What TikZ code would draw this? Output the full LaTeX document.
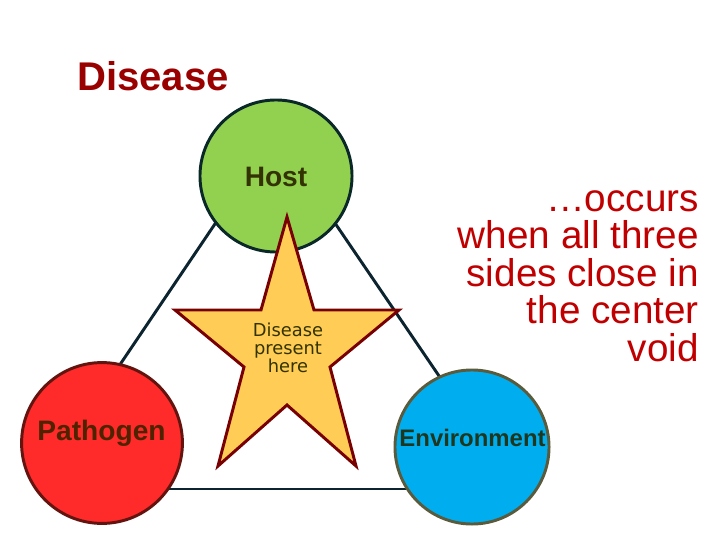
\documentclass[tikz,border=0pt]{standalone}
\usepackage{fontspec}
\setmainfont{Liberation Sans}
\newfontfamily\starfont{DejaVu Sans}
\definecolor{titlered}{RGB}{153,0,0}
\definecolor{textred}{RGB}{192,0,0}
\definecolor{hostgreen}{RGB}{146,208,80}
\definecolor{pathred}{RGB}{255,42,42}
\definecolor{envblue}{RGB}{0,174,239}
\definecolor{staryellow}{RGB}{255,204,85}
\definecolor{linenavy}{RGB}{12,36,48}
\definecolor{stardark}{RGB}{120,0,0}
\definecolor{hostedge}{RGB}{10,40,40}
\definecolor{pathedge}{RGB}{100,20,15}
\definecolor{envedge}{RGB}{90,90,60}
\definecolor{hosttext}{RGB}{51,51,0}
\definecolor{pathtext}{RGB}{80,35,0}
\definecolor{envtext}{RGB}{30,55,30}
\begin{document}
\begin{tikzpicture}[x=0.025cm, y=0.025cm]
\useasboundingbox (0,0) rectangle (720,540);
\node[text=titlered, font=\bfseries\fontsize{28.5}{34}\selectfont] (title) at (153,464) {Disease};
\coordinate (top) at (275,405);
\coordinate (left) at (36,51);
\coordinate (right) at (516,51);
\path [-,line width=2.1pt, draw=linenavy] (top) edge (left);
\path [-,line width=2.1pt, draw=linenavy] (top) edge (right);
\path [-,line width=2.1pt, draw=linenavy] (left) edge (right);
\node[shape=circle, draw=hostedge, fill=hostgreen, line width=2.1pt, inner sep=0pt, minimum size=3.8cm] (host) at (276,364) {};
\node[shape=circle, draw=pathedge, fill=pathred, line width=2.1pt, inner sep=0pt, minimum size=4.02cm] (pathogen) at (102,97) {};
\node[shape=circle, draw=envedge, fill=envblue, line width=2.1pt, inner sep=0pt, minimum size=3.85cm] (environment) at (472,93) {};
\node[anchor=base, inner sep=0pt, text=hosttext, font=\bfseries\fontsize{20}{24}\selectfont] (hostname) at (276,353) {Host};
\node[anchor=base, inner sep=0pt, text=pathtext, font=\bfseries\fontsize{20}{24}\selectfont] (pathogenname) at (101.5,100) {Pathogen};
\node[anchor=base, inner sep=0pt, text=envtext, font=\bfseries\fontsize{17}{20}\selectfont] (environmentname) at (472.5,94) {Environment};
\filldraw[fill=staryellow, draw=stardark, line width=2.1pt, line join=miter] (287,323) -- (314,230) -- (399,230) -- (330,173) -- (356,74) -- (287,135) -- (218,74) -- (244,173) -- (175,230) -- (261,230) -- cycle;
\node[align=center, text=hosttext, font=\starfont\fontsize{12.7}{12.8}\selectfont] (here) at (288,192) {Disease\\present\\here};
\node[anchor=east, inner sep=0pt, align=right, text=textred, font=\fontsize{27.5}{26.7}\selectfont] (void) at (699,264) {…occurs\\when all three\\sides close in\\the center\\void};
\end{tikzpicture}
\end{document}
